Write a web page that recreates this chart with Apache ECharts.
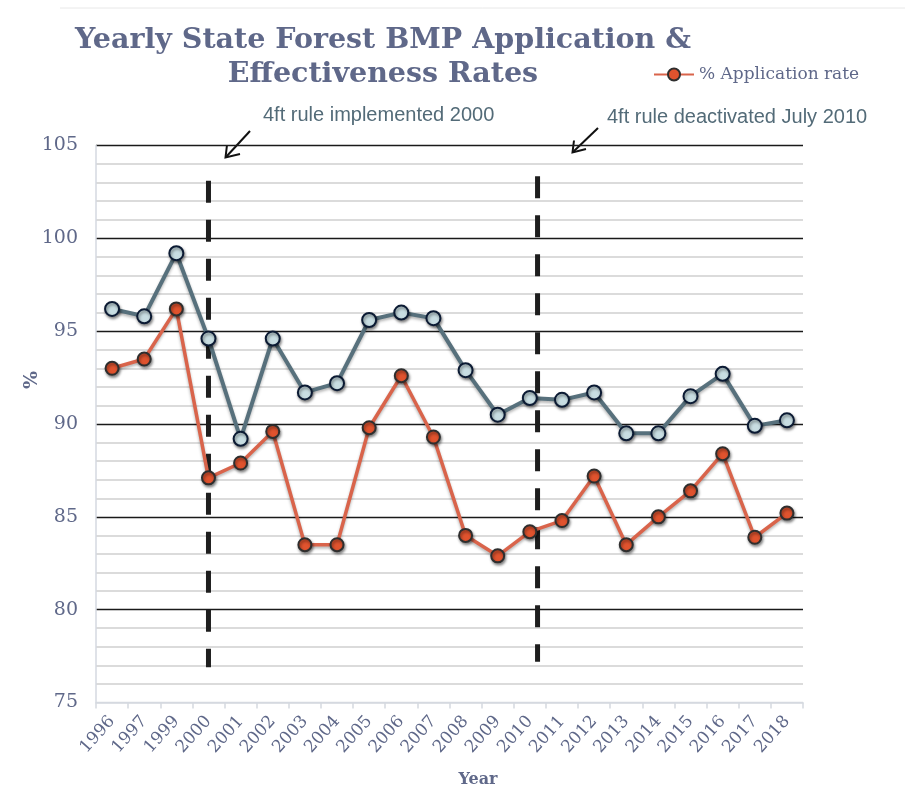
<!DOCTYPE html>
<html>
<head>
<meta charset="utf-8">
<script src="https://cdn.jsdelivr.net/npm/echarts@6/dist/echarts.min.js"></script>
<style>
html,body{margin:0;padding:0;background:#fff;}
#chart{width:905px;height:789px;}
</style>
</head>
<body>
<div id="chart"></div>
<script>
var years = ['1996','1997','1999','2000','2001','2002','2003','2004','2005','2006','2007','2008','2009','2010','2011','2012','2013','2014','2015','2016','2017','2018'];
var effectivenessRate = [96.2, 95.8, 99.2, 94.6, 89.2, 94.6, 91.7, 92.2, 95.6, 96.0, 95.7, 92.9, 90.5, 91.4, 91.3, 91.7, 89.5, 89.5, 91.5, 92.7, 89.9, 90.2];
var applicationRate = [93.0, 93.5, 96.2, 87.1, 87.9, 89.6, 83.5, 83.5, 89.8, 92.6, 89.3, 84.0, 82.9, 84.2, 84.8, 87.2, 83.5, 85.0, 86.4, 88.4, 83.9, 85.2];
var yTicks = [75, 80, 85, 90, 95, 100, 105];
// rule markers: position in category index units, top and bottom values
var ruleImplemented = [[3, 103.1], [3, 76.9]];
var ruleDeactivated = [[13.24, 103.35], [13.24, 77.2]];
var annotations = ['4ft rule implemented 2000', '4ft rule deactivated July 2010'];

var SERIF = '"DejaVu Serif", serif';
var LABEL = '#5f6889';

var chart = echarts.init(document.getElementById('chart'));

function dashSeries(data) {
  return {
    type: 'line', xAxisIndex: 1, data: data, symbol: 'none', silent: true, z: 1,
    lineStyle: { color: '#1e1e1e', width: 5, type: [22, 17], cap: 'butt' },
    tooltip: { show: false }
  };
}

var option = {
  backgroundColor: '#ffffff',
  animation: false,
  grid: { left: 96, right: 102, top: 145.5, bottom: 86.5, containLabel: false, outerBoundsMode: 'none' },
  legend: {
    data: ['% Application rate'],
    left: 648, top: 61,
    itemWidth: 40, itemHeight: 15,
    textStyle: { fontFamily: SERIF, fontSize: 17, color: LABEL }
  },
  xAxis: [{
    type: 'category', data: years, boundaryGap: true,
    axisLine: { show: true, onZero: false, lineStyle: { color: '#d5d9e0', width: 1.5 } },
    axisTick: { show: true, length: 6, lineStyle: { color: '#d5d9e0', width: 1.5 } },
    axisLabel: { interval: 0, rotate: 48, fontFamily: SERIF, fontSize: 17, color: LABEL, margin: 16 },
    splitLine: { show: false }
  }, {
    type: 'value', min: -0.5, max: 21.5, show: false
  }],
  yAxis: {
    type: 'value', min: yTicks[0], max: yTicks[yTicks.length - 1], interval: 5,
    axisLine: { show: true, onZero: false, lineStyle: { color: '#d5d9e0', width: 1.5 } },
    axisTick: { show: false },
    axisLabel: { fontFamily: SERIF, fontSize: 19, color: LABEL, margin: 18 },
    splitLine: { show: true, lineStyle: { color: ['#d5d9e0', '#1a1a1a', '#1a1a1a', '#1a1a1a', '#1a1a1a', '#1a1a1a', '#1a1a1a'], width: 1.3 } },
    minorTick: { show: false, splitNumber: 5 },
    minorSplitLine: { show: true, lineStyle: { color: '#cfcfcf', width: 1.5 } }
  },
  series: [
    dashSeries(ruleImplemented),
    dashSeries(ruleDeactivated),
    {
      name: '% Application rate', type: 'line', data: applicationRate, z: 3,
      symbol: 'circle', symbolSize: 13,
      lineStyle: { color: '#d9644b', width: 3.5, shadowBlur: 3, shadowColor: 'rgba(0,0,0,0.3)', shadowOffsetY: 2 },
      itemStyle: { color: '#e0532e', borderColor: '#2e2e2e', borderWidth: 2, shadowBlur: 3, shadowColor: 'rgba(0,0,0,0.45)', shadowOffsetX: 1, shadowOffsetY: 2 }
    },
    {
      name: '% Effectiveness rate', type: 'line', data: effectivenessRate, z: 4,
      symbol: 'circle', symbolSize: 14,
      lineStyle: { color: '#57707c', width: 4, shadowBlur: 3, shadowColor: 'rgba(0,0,0,0.3)', shadowOffsetY: 2 },
      itemStyle: { color: '#c8dde2', borderColor: '#0b1a33', borderWidth: 2, shadowBlur: 3, shadowColor: 'rgba(0,0,0,0.45)', shadowOffsetX: 1, shadowOffsetY: 2 }
    }
  ],
  graphic: [
    { type: 'line', shape: { x1: 60, y1: 8, x2: 905, y2: 8 }, style: { stroke: '#e8e8e8', lineWidth: 1 } },
    { type: 'text', x: 383, y: 41, style: { text: 'Yearly State Forest BMP Application &', font: 'bold 28.5px ' + SERIF, fill: LABEL, textAlign: 'center', textVerticalAlign: 'middle' } },
    { type: 'text', x: 383, y: 75, style: { text: 'Effectiveness Rates', font: 'bold 28.5px ' + SERIF, fill: LABEL, textAlign: 'center', textVerticalAlign: 'middle' } },
    { type: 'text', x: 32, y: 380, rotation: Math.PI / 2, style: { text: '%', font: 'bold 19px ' + SERIF, fill: LABEL, textAlign: 'center', textVerticalAlign: 'middle' } },
    { type: 'text', x: 478, y: 780, style: { text: 'Year', font: 'bold 16px ' + SERIF, fill: LABEL, textAlign: 'center', textVerticalAlign: 'middle' } },
    { type: 'text', x: 263, y: 115, style: { text: annotations[0], font: '20px "Liberation Sans", Arial, sans-serif', fill: '#536b78', textAlign: 'left', textVerticalAlign: 'middle' } },
    { type: 'text', x: 607, y: 117, style: { text: annotations[1], font: '20px "Liberation Sans", Arial, sans-serif', fill: '#536b78', textAlign: 'left', textVerticalAlign: 'middle' } },
    { type: 'line', shape: { x1: 250, y1: 131, x2: 226, y2: 157 }, style: { stroke: '#111', lineWidth: 2 } },
    { type: 'polyline', shape: { points: [[227, 145], [225.5, 157.5], [240, 154]] }, style: { stroke: '#111', lineWidth: 2, fill: null } },
    { type: 'line', shape: { x1: 598, y1: 128, x2: 573, y2: 152 }, style: { stroke: '#111', lineWidth: 2 } },
    { type: 'polyline', shape: { points: [[574, 140.5], [572.5, 152.5], [586, 149]] }, style: { stroke: '#111', lineWidth: 2, fill: null } }
  ]
};
chart.setOption(option);
</script>
</body>
</html>
